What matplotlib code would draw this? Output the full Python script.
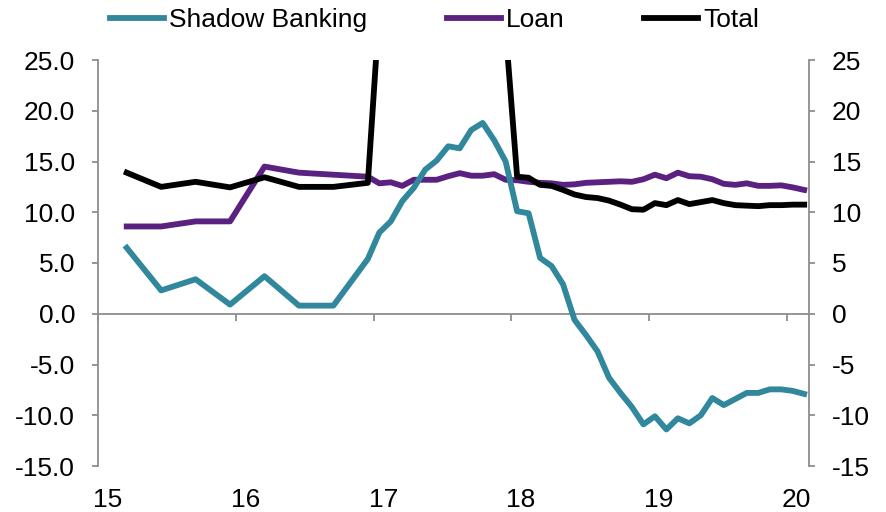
import matplotlib
matplotlib.use("Agg")
from matplotlib import pyplot as plt
from matplotlib import ticker, transforms
import pandas as pd

plt.rcParams['font.family'] = ['Liberation Sans', 'DejaVu Sans']

# quarterly readings until end of 2016, monthly afterwards
quarter_dates = ['2015-03', '2015-06', '2015-09', '2015-12',
                 '2016-03', '2016-06', '2016-09', '2016-12']
month_dates = [d.strftime('%Y-%m') for d in pd.date_range('2017-01-01', '2020-02-01', freq='MS')]
dates = quarter_dates + month_dates

shadow_banking = [6.5, 2.3, 3.4, 0.9, 3.7, 0.8, 0.8, 5.4,
                  8.0, 9.1, 11.1, 12.4, 14.2, 15.1, 16.5, 16.3, 18.1, 18.8, 17.1, 15.0,
                  10.1, 9.9, 5.5, 4.7, 2.9, -0.6, -2.1, -3.7, -6.3, -7.8, -9.2, -10.9,
                  -10.1, -11.4, -10.3, -10.8, -10.0, -8.3, -9.0, -8.4, -7.8, -7.8, -7.45, -7.45,
                  -7.6, -7.9]
loan = [8.6, 8.6, 9.1, 9.1, 14.5, 13.9, 13.7, 13.5,
        12.85, 12.95, 12.6, 13.2, 13.2, 13.2, 13.55, 13.85, 13.6, 13.6, 13.75, 13.2,
        13.15, 13.0, 12.9, 12.85, 12.7, 12.75, 12.9, 12.95, 13.0, 13.05, 13.0, 13.25,
        13.7, 13.35, 13.9, 13.55, 13.5, 13.25, 12.8, 12.7, 12.85, 12.6, 12.6, 12.65,
        12.45, 12.2]
total = [13.9, 12.5, 13.0, 12.45, 13.45, 12.5, 12.5, 12.9,
         30.0, 30.5, 31.0, 31.0, 30.5, 30.0, 30.0, 29.5, 29.0, 28.5, 28.5, 28.0,
         13.5, 13.4, 12.7, 12.6, 12.2, 11.75, 11.5, 11.4, 11.15, 10.75, 10.3, 10.25,
         10.9, 10.7, 11.2, 10.8, 11.0, 11.2, 10.9, 10.7, 10.65, 10.6, 10.7, 10.7,
         10.75, 10.75]

year_ticks = [15, 16, 17, 18, 19, 20]
year_labels = ['15', '16', '17', '18', '19', '20']
y_ticks = [-15, -10, -5, 0, 5, 10, 15, 20, 25]

# two-digit year with the month at its centre
x = [int(d[2:4]) + (int(d[5:7]) - 0.5) / 12 for d in dates]

teal = '#31879C'
purple = '#5A2180'
spine_grey = '#8E8E8E'
fs = 19

fig = plt.figure(figsize=(8.87, 5.12), dpi=100)
ax = fig.add_axes([98 / 887, 1 - 466 / 512, 711 / 887, 406 / 512])

sb_line, = ax.plot(x, shadow_banking, color=teal, lw=4.2, label='Shadow Banking', zorder=3)
loan_line, = ax.plot(x, loan, color=purple, lw=4.2, label='Loan', zorder=2)
total_line, = ax.plot(x, total, color='black', lw=4.2, label='Total', zorder=4)

ax.set_xlim(15, 20.16)
ax.set_ylim(-15, 25)
ax.set_yticks(y_ticks)
ax.yaxis.set_major_formatter(ticker.FormatStrFormatter('%.1f'))

ax.spines['top'].set_visible(False)
ax.spines['right'].set_visible(False)
ax.spines['bottom'].set_position(('data', 0))
for s in ['left', 'bottom']:
    ax.spines[s].set_color(spine_grey)
    ax.spines[s].set_linewidth(1.3)

ax.set_xticks(year_ticks)
ax.tick_params(axis='x', labelbottom=False, direction='out', length=5,
               width=1.3, color=spine_grey)
ax.tick_params(axis='y', direction='out', length=4.5, width=1.3, color=spine_grey,
               labelsize=fs, pad=12)

# year labels sit below the plot area
trans = transforms.blended_transform_factory(ax.transData, ax.transAxes)
for yr, lab in zip(year_ticks, year_labels):
    ax.text(yr + 0.07, -0.083, lab, transform=trans, ha='center', va='center', fontsize=fs)

ax2 = ax.twinx()
ax2.set_ylim(-15, 25)
ax2.set_yticks(y_ticks)
ax2.yaxis.set_major_formatter(ticker.FormatStrFormatter('%d'))
for s in ['top', 'left', 'bottom']:
    ax2.spines[s].set_visible(False)
ax2.spines['right'].set_color(spine_grey)
ax2.spines['right'].set_linewidth(1.3)
ax2.tick_params(axis='y', direction='out', length=4.5, width=1.3, color=spine_grey,
                labelsize=fs, pad=12)

fig.legend([sb_line, loan_line, total_line],
           [sb_line.get_label(), loan_line.get_label(), total_line.get_label()],
           loc='center', bbox_to_anchor=(0.49, 0.96), ncol=3, frameon=False,
           fontsize=fs, handlelength=2.05, handletextpad=0.2, columnspacing=3.0,
           borderaxespad=0, borderpad=0)

fig.savefig('out.png', dpi=100)
